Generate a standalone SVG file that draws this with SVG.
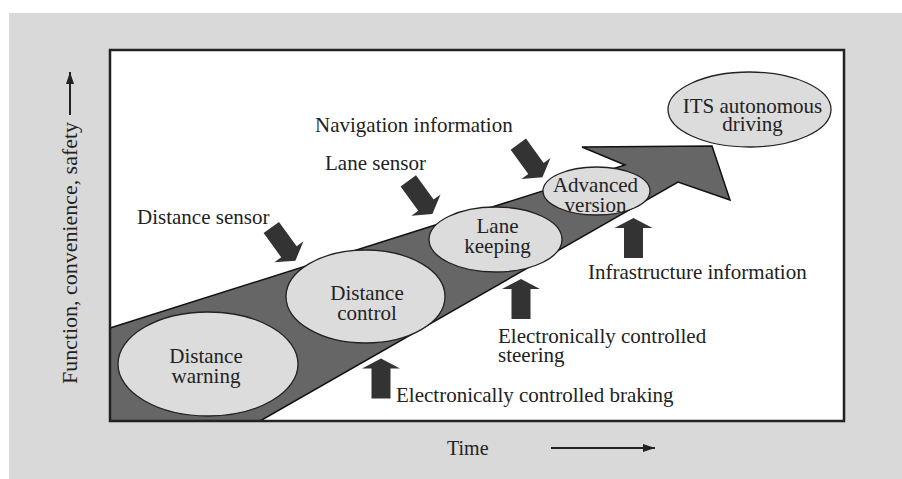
<svg xmlns="http://www.w3.org/2000/svg" width="902" height="479" viewBox="0 0 902 479">
<style>
text{font-family:"Liberation Serif","Times New Roman",serif;font-size:21px;fill:#222}
.node{fill:#dcdcdc;stroke:#222;stroke-width:1.3}
.blk{fill:#333}
.c{text-anchor:middle}
</style>
<defs>
<path id="diag" d="M0,-9.5 H30 V-18 L41,0 L30,18 V9.5 H0 Z"/>
<path id="up" d="M0,0 L19,10 H9.5 V40 H-9.5 V10 H-19 Z"/>
<marker id="ah" viewBox="0 0 12 8" refX="12" refY="4" markerWidth="12" markerHeight="8" markerUnits="userSpaceOnUse" orient="auto">
<path d="M0,0 L12,4 L0,8 Z" fill="#222"/>
</marker>
</defs>
<rect x="9" y="13" width="893" height="466" fill="#d9d9d9"/>
<rect x="110" y="50" width="734" height="371" fill="#fff"/>
<g id="trend">
<path d="M110,328 L625,165 L582,147 L712,146 L730,200 L678,182 L260,421 L110,421 Z" fill="#666" stroke="#111" stroke-width="1.5" stroke-linejoin="miter"/>
</g>
<rect x="110" y="50" width="734" height="371" fill="none" stroke="#222" stroke-width="2.5"/>
<g id="connectors">
<use href="#diag" class="blk" transform="translate(271.3,227.5) rotate(54)"/>
<use href="#diag" class="blk" transform="translate(408.3,180.8) rotate(54)"/>
<use href="#diag" class="blk" transform="translate(518.3,144.2) rotate(54)"/>
<use href="#up" class="blk" transform="translate(381,358.5)"/>
<use href="#up" class="blk" transform="translate(521,279)"/>
<use href="#up" class="blk" transform="translate(633.5,218)"/>
<line x1="70" y1="115" x2="70" y2="72" stroke="#222" stroke-width="2" marker-end="url(#ah)"/>
<line x1="551" y1="448" x2="655" y2="448" stroke="#222" stroke-width="2" marker-end="url(#ah)"/>
</g>
<g id="distance-warning">
<ellipse class="node" cx="208" cy="364" rx="90" ry="52"/>
<text class="c" x="206" y="363">Distance<tspan x="206" dy="20">warning</tspan></text>
</g>
<g id="distance-control">
<ellipse class="node" cx="365.5" cy="296.5" rx="79.5" ry="46.5"/>
<text class="c" x="367" y="300">Distance<tspan x="367" dy="20">control</tspan></text>
</g>
<g id="lane-keeping">
<ellipse class="node" cx="495.5" cy="239.5" rx="66.5" ry="32.5"/>
<text class="c" x="497.5" y="233">Lane<tspan x="497.5" dy="20">keeping</tspan></text>
</g>
<g id="advanced-version">
<ellipse class="node" cx="596.5" cy="191" rx="53.5" ry="24"/>
<text class="c" x="595.5" y="192">Advanced<tspan x="595.5" dy="20">version</tspan></text>
</g>
<g id="its-autonomous">
<ellipse class="node" cx="749.5" cy="109.5" rx="81.5" ry="37.5"/>
<text class="c" x="752.5" y="113">ITS autonomous<tspan x="752.5" dy="18">driving</tspan></text>
</g>
<g id="labels">
<text x="137" y="224">Distance sensor</text>
<text x="325" y="170">Lane sensor</text>
<text x="315" y="132">Navigation information</text>
<text x="588" y="279">Infrastructure information</text>
<text x="498" y="343">Electronically controlled<tspan x="498" dy="19">steering</tspan></text>
<text x="396" y="402">Electronically controlled braking</text>
<text x="447" y="455" style="font-size:20px">Time</text>
<text transform="translate(77,384) rotate(-90)" x="0" y="0" textLength="262" lengthAdjust="spacingAndGlyphs">Function, convenience, safety</text>
</g>
</svg>
